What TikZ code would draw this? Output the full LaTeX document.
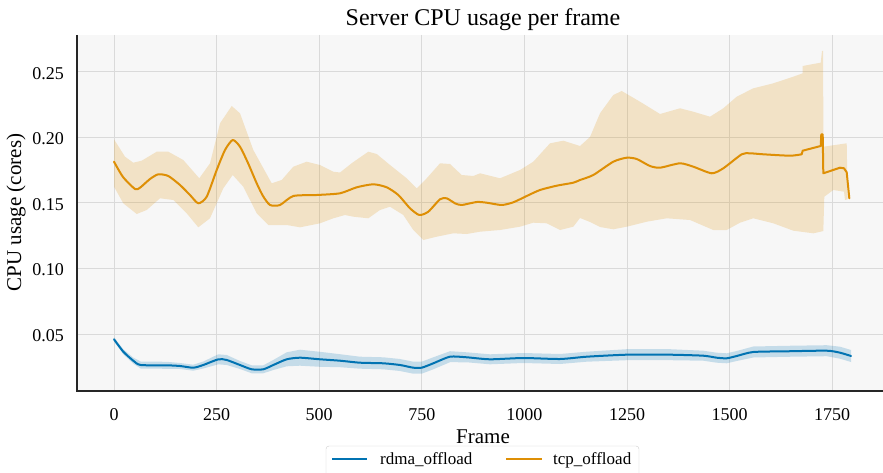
\documentclass[tikz,border=0pt]{standalone}
\usepackage{fontspec}
\setmainfont{Liberation Serif}
\definecolor{rdma}{HTML}{0173B2}
\definecolor{tcp}{HTML}{DE8F05}
\definecolor{panel}{HTML}{F7F7F7}
\definecolor{gridgray}{HTML}{DADADA}

\begin{document}
\begin{tikzpicture}[x=1pt, y=-1pt,
    ticklabel/.style={font=\fontsize{18}{20}\selectfont, inner sep=0pt},
    axislabel/.style={font=\fontsize{21}{24}\selectfont, inner sep=0pt},
    legendtext/.style={font=\fontsize{17}{20}\selectfont, inner sep=0pt, anchor=base west},
    gridline/.style={gridgray, line width=1pt},
    band/.style={fill opacity=0.2},
    mean/.style={line width=2pt, line join=round, line cap=round}]
    \path[use as bounding box, clip] (0,0) rectangle (883,473);
    \fill[panel] (77,35) rectangle (883,391);
    \foreach \f [count=\i] in {0,250,...,1750} {
        \draw[gridline] ({114+0.4104*\f},35) -- ({114+0.4104*\f},391);
        \node[ticklabel, anchor=base] (xt\i) at ({114+0.4104*\f},420) {\f};
    }
    \foreach \v/\y [count=\i] in {0.05/334.1, 0.10/268.5, 0.15/202.9, 0.20/137.3, 0.25/71.7} {
        \draw[gridline] (77,\y) -- (883,\y);
        \node[ticklabel, anchor=east] (yt\i) at (64,{\y+1.5}) {\v};
    }

    \fill[tcp, band] plot coordinates {
        (114,139.3) (125,156.7) (133.3,162.7) (141.7,160.7) (156.7,151.7) (168.3,151.7)
        (183.3,160) (199.3,178.3) (210,163.3) (220,123.3) (231.7,106) (240,113.3)
        (253.3,150) (271.7,183.3) (281.7,180) (293.3,166.7) (306.7,161.7) (320,165)
        (333.3,171.7) (340,172.5) (352,163) (368.3,151.7) (376.7,154) (390,165)
        (406.7,178.3) (416.7,188.3) (426.7,178.3) (440,163.3) (450,164) (461.7,175)
        (473.3,176) (480,173.3) (500,178.3) (520,170) (533.3,161.7) (550,143.3)
        (563.3,140.7) (580,146) (590,137) (600,113.3) (613.3,95) (621.7,91) (640,101.7)
        (660,114) (680,108.3) (693.3,111.7) (710,116.7) (723.3,108.3) (736.7,96.7)
        (753.3,88.3) (773.3,83.3) (793.3,76.7) (802.7,73.3) (802.7,66) (813.3,64)
        (820.7,62.7) (822,51) (823,51) (823.5,146.7) (846.7,143.3) (847.7,199.3)
        (845,200) (844,191.7) (833.3,190) (824.3,196.7) (823.3,231)
        (820.7,231.7) (813.3,233.3) (793.3,230.7) (773.3,223.3) (753.3,218.3)
        (740,222.7) (726.7,230) (713.3,230) (690,220) (666.7,218.3) (646.7,221.7)
        (626.7,226.7) (613.3,229.3) (600,227) (590,222) (580,218) (573.3,226.7)
        (560,230) (546.7,223.3) (533.3,222.7) (520,226.7) (500,230) (480,231.7)
        (466.7,234) (453.3,233.3) (436.7,236.7) (423.3,240) (413.3,230) (403.3,215)
        (390,206.7) (380,210) (368.3,218.3) (353.3,216.7) (345,215) (333.3,218.3)
        (320,223.3) (300,227.3) (286.7,225) (268.3,225) (256.7,213.3) (243.3,186.7)
        (232.7,175) (223.3,188.3) (210,218.3) (198.3,227.3) (186.7,213.3) (173.3,200)
        (160,198.3) (146.7,210) (136.7,214) (123.3,203.3) (114,186.7)} -- cycle;
    \draw[tcp, mean] plot[smooth, tension=0.4] coordinates {
        (114,161.7) (123,177) (135,189) (140,187.7) (150,179) (158.3,174.3) (168.3,176)
        (180,185) (190,195) (198.3,203.3) (206.7,196.7) (216.7,170) (225,150)
        (232.7,140) (240,146.7) (248,163) (256.7,183.3) (263,196) (270,205) (280,205)
        (293.3,196) (316.7,195) (340,193.3) (356.7,187.3) (373.3,184.3) (386.7,187.3)
        (398.3,195) (410,208.3) (419.3,215) (428.3,211.7) (440,199.3) (446.7,198.3)
        (455,203.3) (461.7,205) (476.7,202) (486.7,202.7) (501.7,205) (513.3,202.3)
        (526.7,196) (540,190) (556.7,185.7) (573.3,182.7) (580,180) (593.3,175)
        (613.3,161.7) (626.7,157.7) (636.7,159) (650,166) (660,167.7) (680,163.3)
        (693.3,166.7) (711.7,173.3) (723.3,168.3) (741.7,154.3) (750,153.3)
        (763.3,154.3) (790,155.7) (801.7,154.3)}
        -- (802.7,150.7) -- (820.7,146) -- (821.3,134.3) -- (822.7,134.3)
        -- (823.3,173.3) -- (840,167.7) -- (844,168.3) -- (846.7,172.3) -- (849.3,198.3);

    \fill[rdma, band] plot coordinates {
        (114,337.3) (123.3,349.2) (133.3,357.7) (140.7,361.5) (166.7,361.8) (180,363)
        (193.3,364.7) (203.3,361.5) (218.3,354.3) (226.7,355) (240,361) (251.7,365.3)
        (263.3,365.3) (273.3,360) (286.7,352.3) (300,349.7) (320,351.8) (340,354.2)
        (360,356.7) (383.3,357.3) (400,359) (413.3,361.7) (421.7,361.7) (433.3,357.3)
        (450,351.2) (466.7,352.3) (490,354.3) (523.3,353) (560,354) (586.7,351.7)
        (626.7,349.2) (670,349.2) (703.3,350.7) (716.7,352.7) (726.7,353.3)
        (736.7,351) (753.3,346.5) (786.7,345.8) (826.7,345.2) (840,346.7) (851,350)
        (851,362) (840,358.7) (826.7,356.2) (786.7,356.8) (753.3,357.5) (736.7,361)
        (726.7,363.3) (716.7,362.7) (703.3,360.7) (670,360.2) (626.7,360.2)
        (586.7,361.7) (560,364) (523.3,363) (490,364.3) (466.7,362.3) (450,362.2)
        (433.3,369.3) (421.7,373.7) (413.3,373.7) (400,371) (383.3,369.3) (360,368.7)
        (340,367.2) (320,366.8) (300,365.7) (286.7,366.3) (273.3,370) (263.3,373.3)
        (251.7,373.3) (240,369) (226.7,365) (218.3,364.3) (203.3,368.5) (193.3,370.7)
        (180,369) (166.7,368.8) (140.7,368.5) (133.3,363.7) (123.3,354.2) (114,341.3)}
        -- cycle;
    \draw[rdma, mean] plot[smooth, tension=0.4] coordinates {
        (114,339.3) (123.3,351.7) (133.3,360.7) (140.7,365) (166.7,365.3) (180,366)
        (193.3,367.7) (203.3,365) (218.3,359.3) (226.7,360) (240,365) (251.7,369.3)
        (263.3,369.3) (273.3,365) (286.7,359.3) (300,357.7) (320,359.3) (340,360.7)
        (360,362.7) (383.3,363.3) (400,365) (413.3,367.7) (421.7,367.7) (433.3,363.3)
        (450,356.7) (466.7,357.3) (490,359.3) (523.3,358) (560,359) (586.7,356.7)
        (626.7,354.7) (670,354.7) (703.3,355.7) (716.7,357.7) (726.7,358.3)
        (736.7,356) (753.3,352) (786.7,351.3) (826.7,350.7) (840,352.7) (851,356)};

    \draw[black!85, line width=1.4pt] (77,35) -- (77,391) -- (883,391);

    \node[font=\fontsize{24}{28}\selectfont, inner sep=0pt, anchor=base] (title) at (483,26) {Server CPU usage per frame};
    \node[axislabel, anchor=base] (xlabel) at (483,443) {Frame};
    \node[axislabel, rotate=90] (ylabel) at (16,212.5) {CPU usage (cores)};

    \draw[rounded corners=3pt, draw=black!20, fill=white, fill opacity=0.9] (326,446) rectangle (639,490);
    \coordinate (rdmaA) at (332,459);
    \coordinate (rdmaB) at (367,459);
    \coordinate (tcpA) at (506,459);
    \coordinate (tcpB) at (542,459);
    \draw[rdma, line width=2pt] (rdmaA) -- (rdmaB);
    \draw[tcp, line width=2pt] (tcpA) -- (tcpB);
    \node[legendtext] (rdmatext) at (380,464) {rdma\_offload};
    \node[legendtext] (tcptext) at (553,464) {tcp\_offload};
\end{tikzpicture}
\end{document}
